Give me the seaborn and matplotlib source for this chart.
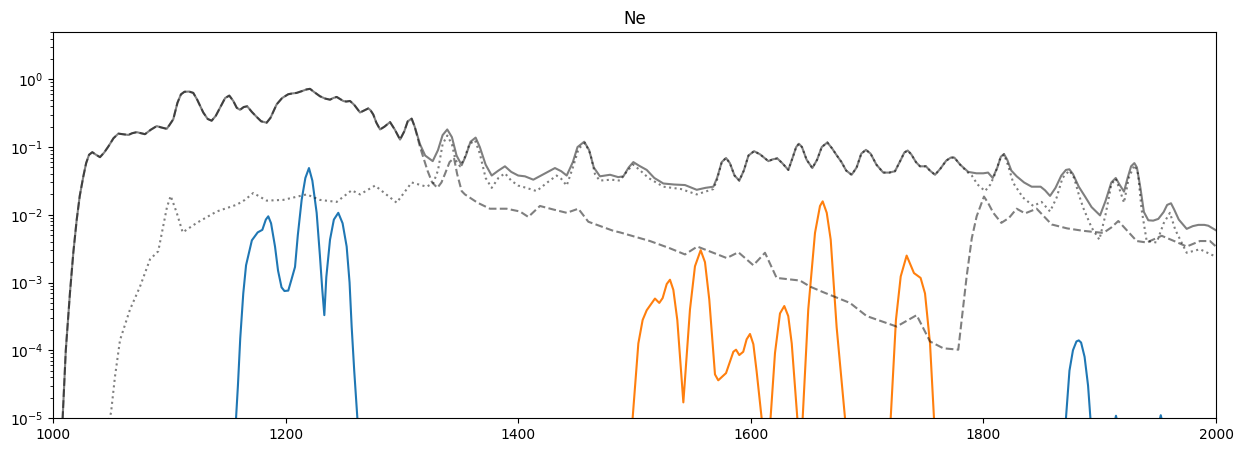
import numpy as np
import pandas as pd
import seaborn as sns
import matplotlib.pyplot as plt

# total (solid grey)
total_x = [1000, 1008.3, 1011, 1014.6, 1017.5, 1020.4, 1023, 1026.1, 1028.5, 1031, 1033.8, 1037,
           1040.4, 1044, 1047.6, 1052, 1056.2, 1060, 1064.8, 1068, 1072, 1076, 1079.1, 1084,
           1089.2, 1093, 1097.8, 1100, 1103.4, 1107, 1110, 1113, 1117, 1120.6, 1124, 1129.2,
           1133, 1136.4, 1140, 1143.6, 1148, 1151.6, 1155, 1158, 1160.8, 1164, 1167, 1171,
           1175, 1179, 1183.7, 1187, 1192.3, 1197, 1202.3, 1206, 1209.5, 1214, 1218, 1221,
           1224, 1229.6, 1234, 1238.2, 1241, 1243.9, 1247, 1249.6, 1252, 1255.4, 1259, 1264,
           1268, 1271.1, 1273, 1275.4, 1278, 1281.2, 1285, 1289.8, 1294, 1298.4, 1302, 1305,
           1308.4, 1311, 1315.6, 1320, 1326.5, 1331, 1335, 1339, 1343, 1347, 1351.4, 1355,
           1359, 1363.4, 1367, 1372, 1377.2, 1383, 1388.6, 1394, 1400, 1405.8, 1413, 1422,
           1431.6, 1437, 1441.7, 1447, 1451, 1456.8, 1461, 1465, 1470.3, 1479, 1486, 1490.4,
           1495, 1499, 1504, 1510.5, 1517, 1524.8, 1534, 1543.4, 1553.5, 1561, 1567.8, 1571,
           1575, 1578.7, 1582, 1586, 1590.1, 1594, 1598, 1602.8, 1608, 1615.1, 1619, 1622.8,
           1627, 1632.3, 1636, 1639, 1641.4, 1644, 1648, 1652.9, 1657, 1661, 1665.8, 1670,
           1674, 1678, 1682, 1686.7, 1691, 1695, 1699, 1703, 1708, 1713.9, 1719, 1724, 1729,
           1732, 1734.9, 1738, 1742, 1745.5, 1750.6, 1754, 1758.4, 1763, 1768, 1772, 1775,
           1780, 1787, 1794, 1799.9, 1804, 1808, 1812, 1815, 1817.7, 1820.5, 1824, 1828.6,
           1835, 1841.5, 1849.2, 1853, 1857.3, 1862, 1867, 1871, 1873.9, 1877, 1882, 1887.4,
           1893, 1900.3, 1905, 1910, 1913.8, 1917, 1920.9, 1924, 1927, 1929.8, 1932, 1935,
           1938, 1941.8, 1946, 1950.4, 1955, 1958, 1961.3, 1964, 1968, 1974.8, 1980, 1984.8,
           1990, 1993.4, 2000]
total_y = [1e-7, 1e-5, 1e-4, 7.1e-4, 0.0028, 8.5e-3, 0.019, 0.037, 0.058, 0.077, 0.084, 0.077,
           0.071, 0.083, 0.102, 0.135, 0.158, 0.155, 0.151, 0.16, 0.166, 0.16, 0.155, 0.18,
           0.204, 0.195, 0.186, 0.21, 0.257, 0.45, 0.60, 0.655, 0.66, 0.631, 0.50, 0.324,
           0.26, 0.245, 0.29, 0.380, 0.53, 0.575, 0.48, 0.38, 0.355, 0.39, 0.40, 0.33,
           0.28, 0.24, 0.229, 0.27, 0.427, 0.53, 0.603, 0.62, 0.631, 0.67, 0.71, 0.724,
           0.66, 0.562, 0.52, 0.501, 0.53, 0.550, 0.51, 0.479, 0.47, 0.479, 0.42, 0.324,
           0.35, 0.372, 0.35, 0.302, 0.23, 0.182, 0.20, 0.234, 0.18, 0.129, 0.17, 0.24,
           0.263, 0.20, 0.110, 0.075, 0.062, 0.09, 0.15, 0.182, 0.14, 0.075, 0.054, 0.075,
           0.12, 0.138, 0.10, 0.055, 0.038, 0.045, 0.052, 0.043, 0.038, 0.037, 0.033, 0.04,
           0.049, 0.044, 0.038, 0.06, 0.10, 0.120, 0.09, 0.05, 0.037, 0.039, 0.036, 0.037,
           0.05, 0.060, 0.053, 0.046, 0.035, 0.029, 0.028, 0.0275, 0.0234, 0.025, 0.026, 0.035,
           0.06, 0.069, 0.058, 0.038, 0.032, 0.045, 0.075, 0.087, 0.078, 0.062, 0.066, 0.068,
           0.058, 0.046, 0.07, 0.10, 0.112, 0.10, 0.065, 0.049, 0.065, 0.10, 0.117, 0.095,
           0.075, 0.06, 0.045, 0.039, 0.05, 0.08, 0.091, 0.08, 0.055, 0.042, 0.042, 0.044, 0.065,
           0.083, 0.089, 0.078, 0.06, 0.052, 0.052, 0.045, 0.039, 0.048, 0.063, 0.07, 0.07,
           0.055, 0.043, 0.041, 0.041, 0.042, 0.035, 0.05, 0.072, 0.079, 0.065, 0.045, 0.037,
           0.03, 0.026, 0.026, 0.023, 0.019, 0.025, 0.038, 0.046, 0.047, 0.04, 0.026, 0.0186,
           0.013, 0.0098, 0.016, 0.03, 0.035, 0.028, 0.022, 0.035, 0.052, 0.058, 0.05, 0.025,
           0.011, 0.0083, 0.0082, 0.0087, 0.011, 0.014, 0.0148, 0.012, 0.0085, 0.0062, 0.0068, 0.0071,
           0.0071, 0.0069, 0.0059]

# dashed grey component (identical to the total up to ~1311)
dash_tail_x = [1315.6, 1319, 1322, 1326, 1330.5, 1334, 1337, 1341, 1344.8, 1347.5, 1351.4,
               1354.2, 1365, 1375.7, 1390, 1401.5, 1408.7, 1418.7, 1430, 1441.7, 1451.7,
               1460.3, 1481.8, 1487.5, 1513.3, 1530.5, 1543.4, 1554, 1579.3, 1589.3, 1602.2,
               1612.2, 1622.2, 1642.3, 1651, 1662.3, 1685.3, 1699.6, 1725.4, 1742.6, 1754.1,
               1765.5, 1778.4, 1785.6, 1790, 1794.2, 1800.5, 1804, 1808.5, 1815.4, 1822, 1828.6,
               1835.8, 1845.8, 1852, 1858.7, 1872, 1885.9, 1903.1, 1910, 1916, 1923, 1931.8,
               1940.4, 1953.3, 1964, 1974.8, 1986.2, 1994.8, 2000]
dash_tail_y = [0.10, 0.065, 0.045, 0.03, 0.025, 0.03, 0.040, 0.06, 0.069, 0.04, 0.0224,
               0.020, 0.0151, 0.0123, 0.0123, 0.0112, 0.0093, 0.0135, 0.012, 0.0107, 0.0123,
               0.0079, 0.0058, 0.0055, 0.0041, 0.0032, 0.0026, 0.0034, 0.0023, 0.0028, 0.0018,
               0.00275, 0.00117, 0.00107, 0.00087, 0.00072, 0.0005, 0.00032, 0.000224, 0.00033, 0.000135,
               0.000107, 0.000102, 0.00123, 0.0045, 0.0095, 0.0186, 0.015, 0.0107, 0.0076, 0.009, 0.0123,
               0.0105, 0.0123, 0.0095, 0.0072, 0.0063, 0.0058, 0.0054, 0.0065, 0.0081, 0.006, 0.0041,
               0.0039, 0.0049, 0.0041, 0.0034, 0.0041, 0.0041, 0.0034]

# dotted grey component
dot_x = [1000, 1049.9, 1053.3, 1057.6, 1066.2, 1074.8, 1083.4, 1090.5, 1094.8, 1098, 1101.2,
         1106.4, 1111.5, 1123.6, 1140.8, 1158, 1165, 1172.2, 1183.7, 1198, 1218.1, 1229.6,
         1243.9, 1256.8, 1264, 1276.9, 1295.5, 1308.4, 1321.3, 1327, 1331, 1335, 1339, 1343,
         1346, 1350, 1354, 1358, 1362.9, 1367, 1372, 1377.2, 1383, 1388.6, 1394, 1400, 1407,
         1415.8, 1425, 1433, 1437, 1441.7, 1447, 1452, 1457.4, 1462, 1466, 1470, 1480, 1487.5,
         1494, 1499, 1505, 1512, 1524.8, 1540, 1553.5, 1561, 1567.8, 1571,
         1575, 1578.7, 1582, 1586, 1590.1, 1594, 1598, 1602.8, 1608, 1615.1, 1619, 1622.8,
         1627, 1632.3, 1636, 1639, 1641.4, 1644, 1648, 1652.9, 1657, 1661, 1665.8, 1670,
         1674, 1678, 1682, 1686.7, 1691, 1695, 1699, 1703, 1708, 1713.9, 1719, 1724, 1729,
         1732, 1734.9, 1738, 1742, 1745.5, 1750.6, 1754, 1758.4, 1763, 1768, 1772, 1775,
         1780, 1786, 1790, 1795, 1801.4, 1806, 1810, 1814, 1817.7, 1821, 1825.7, 1834, 1842.9,
         1850, 1857.3, 1863, 1868, 1873.9, 1878, 1882, 1885.9, 1893, 1899.7, 1905, 1910,
         1913.8, 1917, 1920.9, 1925, 1929.8, 1933, 1936, 1940.4, 1949, 1955, 1960.4, 1965,
         1974.8, 1986.2, 2000]
dot_y = [1e-8, 1.2e-5, 4.1e-5, 1.41e-4, 4.0e-4, 8.7e-4, 0.0022, 0.0029, 0.0068, 0.013, 0.019,
         0.0107, 0.0055, 0.0076, 0.0112, 0.0141, 0.0166, 0.021, 0.0162, 0.0166, 0.020, 0.0166,
         0.0155, 0.023, 0.020, 0.027, 0.0151, 0.030, 0.026, 0.0295, 0.045, 0.11, 0.148, 0.11,
         0.065, 0.052, 0.07, 0.11, 0.126, 0.08, 0.035, 0.025, 0.035, 0.041, 0.032, 0.027, 0.025,
         0.0224, 0.03, 0.038, 0.034, 0.027, 0.05, 0.095, 0.115, 0.08, 0.04, 0.032, 0.033, 0.032,
         0.045, 0.055, 0.045, 0.035, 0.026, 0.024, 0.020, 0.022, 0.024, 0.033,
         0.06, 0.069, 0.058, 0.038, 0.032, 0.045, 0.075, 0.087, 0.078, 0.062, 0.066, 0.068,
         0.058, 0.046, 0.07, 0.10, 0.112, 0.10, 0.065, 0.049, 0.065, 0.10, 0.117, 0.095,
         0.075, 0.06, 0.045, 0.039, 0.05, 0.08, 0.091, 0.08, 0.055, 0.042, 0.042, 0.044, 0.065,
         0.083, 0.089, 0.078, 0.06, 0.052, 0.052, 0.045, 0.039, 0.048, 0.063, 0.07, 0.07,
         0.055, 0.043, 0.038, 0.028, 0.0224, 0.028, 0.04, 0.065, 0.078, 0.055, 0.0295, 0.018, 0.0135,
         0.0155, 0.0112, 0.018, 0.035, 0.045, 0.035, 0.02, 0.0126, 0.0065, 0.0043, 0.01, 0.028,
         0.034, 0.024, 0.0151, 0.035, 0.054, 0.04, 0.012, 0.0041, 0.0039, 0.0075, 0.0107, 0.006,
         0.00275, 0.0031, 0.0024]

# blue ion
blue_x = [1000, 1150, 1157.4, 1159, 1161, 1163.6, 1166, 1171, 1176, 1180, 1183, 1185.1, 1187.5,
          1190.9, 1193.5, 1196.5, 1199, 1202.3, 1205, 1208.1, 1210.5, 1213.8, 1217, 1220.1,
          1223, 1226.7, 1229.5, 1231.5, 1233.3, 1235, 1238.2, 1241.5, 1245.3, 1249, 1252.5,
          1255, 1256.8, 1259, 1261.7, 1270, 1860, 1871, 1874, 1877, 1880, 1882, 1884, 1887,
          1890, 1892, 1900, 1910, 1914, 1918, 1930, 1948, 1952.5, 1957, 1970, 2000]
blue_y = [1e-9, 1e-7, 1e-5, 3e-5, 1.5e-4, 6.9e-4, 0.0018, 0.0042, 0.0055, 0.006, 0.0085, 0.0095,
          0.0075, 0.0034, 0.0015, 0.00085, 0.00075, 0.00076, 0.0011, 0.0017, 0.005, 0.0166, 0.035,
          0.049, 0.032, 0.0107, 0.0025, 0.0008, 0.00033, 0.0012, 0.0043, 0.0085, 0.0107, 0.0075,
          0.0034, 0.001, 0.000224, 5e-5, 1e-5, 1e-7, 1e-7, 1e-5, 5e-5, 1.0e-4, 1.35e-4, 1.4e-4,
          1.3e-4, 8e-5, 3e-5, 1e-5, 1e-7, 5e-6, 1.08e-5, 5e-6, 1e-7, 5e-6, 1.1e-5, 5e-6, 1e-7, 1e-8]

# orange ion
orange_x = [1000, 1490, 1498.4, 1503.3, 1507, 1510.5, 1517.6, 1521.3, 1524.2, 1527.7, 1530.5,
            1533.4, 1536.8, 1542, 1547.7, 1552, 1556.9, 1560.6, 1564.3, 1569.2, 1572, 1578.7,
            1585, 1587.3, 1590.1, 1593.5, 1596.4, 1599.3, 1602.2, 1605, 1609.3, 1613, 1617,
            1620.8, 1625.1, 1628.8, 1632.2, 1635.2, 1640, 1642.3, 1644.6, 1649.4, 1655.2,
            1659.5, 1661.8, 1665.3, 1668.7, 1673.8, 1681, 1700, 1720.3, 1724.8, 1728.9, 1734,
            1740.3, 1746, 1749.8, 1754.1, 1757.5, 1770, 2000]
orange_y = [1e-9, 1e-7, 1e-5, 1.26e-4, 2.8e-4, 3.9e-4, 5.8e-4, 5.0e-4, 5.9e-4, 9.5e-4, 0.0011,
            7.8e-4, 2.8e-4, 1.7e-5, 4.0e-4, 0.00174, 0.0030, 0.0020, 5.6e-4, 4.4e-5, 3.6e-5, 4.6e-5,
            9.5e-5, 1.02e-4, 8.5e-5, 9.5e-5, 1.45e-4, 1.74e-4, 1.23e-4, 4.9e-5, 1e-5, 1e-7, 1e-5,
            9.1e-5, 3.5e-4, 4.5e-4, 3.2e-4, 1.26e-4, 1e-5, 1e-7, 1e-5, 4.0e-4, 0.0054,
            0.0135, 0.0158, 0.0107, 0.0043, 2.2e-4, 1e-5, 1e-7, 1e-5, 2.8e-4, 0.00123, 0.0025,
            0.00138, 0.00117, 6.9e-4, 1.26e-4, 1e-5, 1e-7, 1e-9]

dash_x = [x for x in total_x if x <= 1311] + dash_tail_x
dash_y = [y for x, y in zip(total_x, total_y) if x <= 1311] + dash_tail_y

fig = plt.figure(figsize=(12.43, 4.51), dpi=100)
ax = fig.add_axes([53 / 1243, 33 / 451, 1163 / 1243, 386 / 451])

sns.lineplot(x=blue_x, y=blue_y, color="C0", estimator=None, sort=False, ax=ax)
sns.lineplot(x=orange_x, y=orange_y, color="C1", estimator=None, sort=False, ax=ax)
sns.lineplot(x=total_x, y=total_y, color="k", alpha=0.5, estimator=None, sort=False, ax=ax)
sns.lineplot(x=dash_x, y=dash_y, color="k", alpha=0.5, linestyle="--", estimator=None, sort=False, ax=ax)
sns.lineplot(x=dot_x, y=dot_y, color="k", alpha=0.5, linestyle=":", estimator=None, sort=False, ax=ax)

ax.set_yscale("log")
ax.set_xlim(1000, 2000)
ax.set_ylim(1e-5, 5)
ax.set_title("Ne")

fig.savefig("out.png", dpi=100)
